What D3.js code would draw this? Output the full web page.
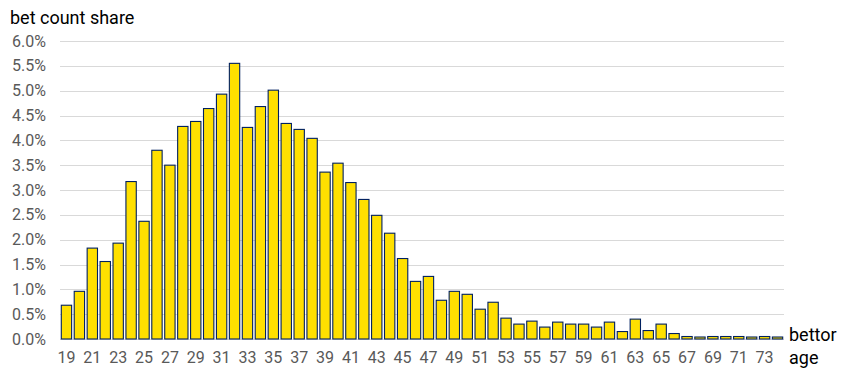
<!DOCTYPE html>
<html>
<head>
<meta charset="utf-8">
<script src="https://cdn.jsdelivr.net/npm/d3@7"></script>
<style>
  body { margin: 0; background: #fff; }
  text { font-family: Roboto, "Liberation Sans", Arial, sans-serif; }
</style>
</head>
<body>
<div id="chart"></div>
<script>
// bettor ages 19..74
const ages = d3.range(19, 75)
// share of bets, in percent
const shares = [
  0.68, 0.96, 1.83, 1.56, 1.93, 3.17, 2.37, 3.80, 3.50, 4.28,
  4.38, 4.64, 4.93, 5.55, 4.26, 4.68, 5.01, 4.34, 4.22, 4.04,
  3.36, 3.54, 3.15, 2.81, 2.49, 2.13, 1.62, 1.16, 1.26, 0.78,
  0.96, 0.90, 0.60, 0.74, 0.42, 0.30, 0.36, 0.24, 0.34, 0.30,
  0.30, 0.24, 0.34, 0.15, 0.40, 0.17, 0.30, 0.11, 0.05, 0.04,
  0.05, 0.05, 0.05, 0.04, 0.05, 0.04
]
const yTicks = [0, 0.5, 1, 1.5, 2, 2.5, 3, 3.5, 4, 4.5, 5, 5.5, 6]
const xTickLabels = ages.filter(a => a % 2 === 1) // every other age

const width = 844
const height = 373
const margin = { top: 41, right: 60, bottom: 34, left: 60 }

const data = ages.map((a, i) => ({ age: a, share: shares[i] }))

const svg = d3.select("#chart").append("svg")
    .attr("width", width)
    .attr("height", height)

const x = d3.scaleBand()
    .domain(ages)
    .range([margin.left, width - margin.right])
    .paddingInner(0.2)
    .paddingOuter(0.1)

const y = d3.scaleLinear()
    .domain([0, 6])
    .range([height - margin.bottom, margin.top])

// gridlines
svg.append("g")
  .selectAll("line")
  .data(yTicks)
  .join("line")
    .attr("x1", margin.left)
    .attr("x2", width - margin.right)
    .attr("y1", d => Math.round(y(d)) + 0.5)
    .attr("y2", d => Math.round(y(d)) + 0.5)
    .attr("stroke", "#d9d9d9")
    .attr("stroke-width", 1)

// y tick labels
svg.append("g")
  .selectAll("text")
  .data(yTicks)
  .join("text")
    .attr("x", 46)
    .attr("y", d => y(d) + 5.5)
    .attr("text-anchor", "end")
    .attr("font-size", "16px")
    .attr("fill", "#595959")
    .text(d => d.toFixed(1) + "%")

// bars
svg.append("g")
  .selectAll("rect")
  .data(data)
  .join("rect")
    .attr("x", d => x(d.age))
    .attr("width", x.bandwidth())
    .attr("y", d => y(d.share))
    .attr("height", d => y(0) - y(d.share))
    .attr("fill", "#ffe000")
    .attr("stroke", "#002060")
    .attr("stroke-width", 1.1)

// x tick labels
svg.append("g")
  .selectAll("text")
  .data(xTickLabels)
  .join("text")
    .attr("x", d => x(d) + x.bandwidth() / 2)
    .attr("y", 363)
    .attr("text-anchor", "middle")
    .attr("font-size", "16px")
    .attr("fill", "#595959")
    .text(d => d)

// axis titles
svg.append("text")
    .attr("x", 10)
    .attr("y", 24)
    .attr("font-size", "18px")
    .attr("fill", "#000")
    .text("bet count share")

svg.append("text")
    .attr("x", 789)
    .attr("y", 341)
    .attr("font-size", "18px")
    .attr("fill", "#000")
    .text("bettor")

svg.append("text")
    .attr("x", 789)
    .attr("y", 364)
    .attr("font-size", "18px")
    .attr("fill", "#000")
    .text("age")
</script>
</body>
</html>
